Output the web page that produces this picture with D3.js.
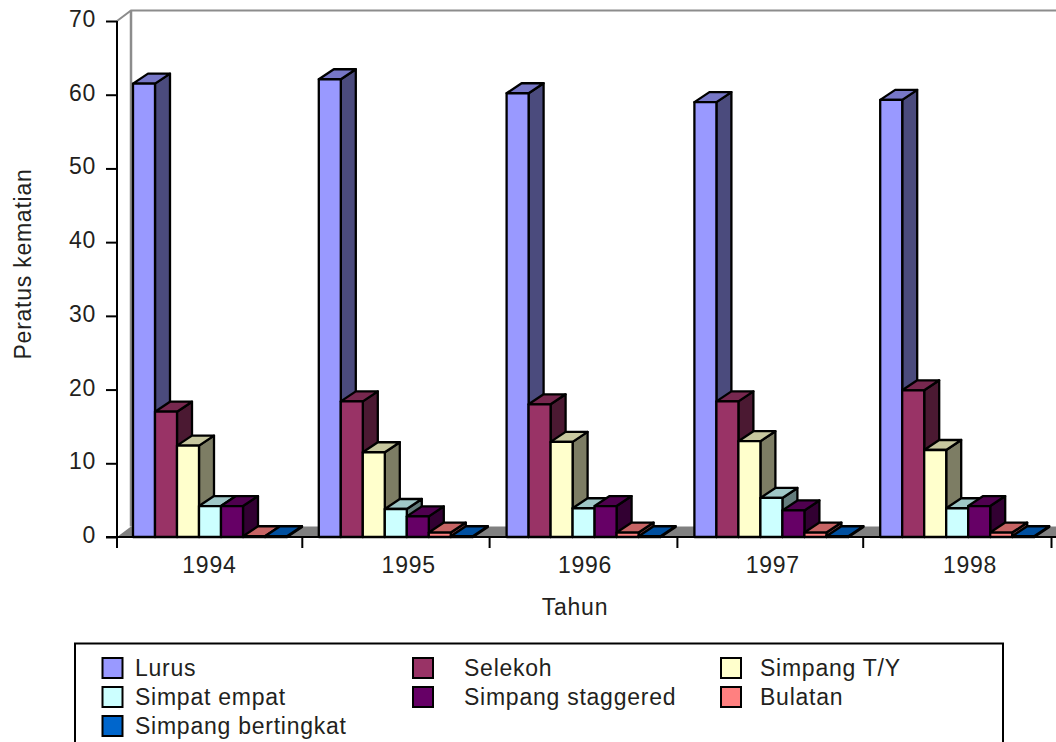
<!DOCTYPE html>
<html>
<head>
<meta charset="utf-8">
<script src="https://cdn.jsdelivr.net/npm/d3@7/dist/d3.min.js"></script>
<style>
html,body{margin:0;padding:0;background:#fff;overflow:hidden}
text{font-family:"Liberation Sans",Arial,sans-serif;fill:#231f20;letter-spacing:.75px}
</style>
</head>
<body>
<svg id="chart" width="1056" height="742"></svg>
<script>
const years = ["1994","1995","1996","1997","1998"];
const seriesNames = ["Lurus","Selekoh","Simpang T/Y","Simpat empat","Simpang staggered","Bulatan","Simpang bertingkat"];
const seriesColors = ["#9999ff","#993366","#ffffcc","#ccffff","#660066","#ff8080","#0066cc"];
const lurus = [61.5,62.1,60.2,59.0,59.3];
const selekoh = [17.0,18.4,18.0,18.4,19.9];
const simpangTY = [12.4,11.5,12.9,13.0,11.8];
const simpatEmpat = [4.2,3.8,3.9,5.3,3.9];
const simpangStaggered = [4.2,2.8,4.2,3.6,4.2];
const bulatan = [0.1,0.6,0.6,0.6,0.6];
const simpangBertingkat = [0.1,0.1,0.1,0.1,0.1];
const seriesValues = [lurus,selekoh,simpangTY,simpatEmpat,simpangStaggered,bulatan,simpangBertingkat];
const yTicks = [0,10,20,30,40,50,60,70];

const svg = d3.select("#chart");
const wallDX = 14, wallDY = 10.5, barDX = 15, barDY = 10;
const y = d3.scaleLinear().domain([0,70]).range([537,21]);
const x0 = d3.scaleBand().domain(years).range([117,1051]);
const x1 = d3.scaleBand().domain(seriesNames).range([16,170]);
const wallGrey = "#808080";

// hand-tuned pixel offsets per year for bars, ticks and labels
const barNudge = [0,-1,0,1,0];
const tickNudge = [0,-1.5,-1,0,-1,0.5];
const labelNudge = [-1,11.5,1,2,12.5];

// back wall frame and floor of the 3D plot area
const path = pts => "M" + pts.map(p => p.join(",")).join("L") + "Z";
svg.append("path")
  .attr("d", path([[117,537],[117+wallDX,537-wallDY],[1056,537-wallDY],[1056,537]]))
  .attr("fill", wallGrey);
svg.append("path")
  .attr("d", `M117,${y(70)}L${117+wallDX},${y(70)-wallDY}H1056`)
  .attr("fill","none").attr("stroke","#8c8c8c").attr("stroke-width",2);
svg.append("line")
  .attr("x1",117+wallDX).attr("x2",117+wallDX)
  .attr("y1",y(70)-wallDY).attr("y2",537-wallDY)
  .attr("stroke","#8c8c8c").attr("stroke-width",2.5);

// one cuboid per year and series, painted left to right so later bars overlap earlier sides
const shade = (c,k) => d3.rgb(c).darker(k).formatHex();
years.forEach((yr,i) => {
  seriesNames.forEach((name,s) => {
    const v = seriesValues[s][i];
    const l = x0(yr) + x1(name) + barNudge[i];
    const r = l + x1.bandwidth();
    const t = y(v), b = y(0);
    const g = svg.append("g")
      .attr("stroke","#000").attr("stroke-width",2.3).attr("stroke-linejoin","round");
    g.append("path").attr("fill",shade(seriesColors[s],2))
      .attr("d",path([[r,b],[r+barDX,b-barDY],[r+barDX,t-barDY],[r,t]]));
    g.append("path").attr("fill",shade(seriesColors[s],0.7))
      .attr("d",path([[l,t],[l+barDX,t-barDY],[r+barDX,t-barDY],[r,t]]));
    g.append("rect").attr("fill",seriesColors[s])
      .attr("x",l).attr("y",t).attr("width",r-l).attr("height",b-t);
  });
});

// value axis
const yAxis = svg.append("g").attr("transform","translate(117,0)")
  .call(d3.axisLeft(y).tickValues(yTicks).tickSize(11).tickPadding(10));
yAxis.selectAll("line,path").attr("stroke","#000").attr("stroke-width",2);
yAxis.select(".domain").attr("d",`M0,${y(70)}V${y(0)}`);
yAxis.selectAll("text").attr("font-size",23).attr("dy","0.24em").style("fill","#231f20");

// category axis: ticks sit on band edges, labels below
const tickXs = years.map(d => x0(d)).concat([x0.range()[1]]);
svg.append("line").attr("x1",106).attr("x2",1056).attr("y1",537).attr("y2",537)
  .attr("stroke","#000").attr("stroke-width",2);
svg.selectAll(".xt").data(tickXs).join("line").attr("class","xt")
  .attr("x1",(d,i)=>d+tickNudge[i]).attr("x2",(d,i)=>d+tickNudge[i]).attr("y1",537).attr("y2",548)
  .attr("stroke","#000").attr("stroke-width",2);
svg.selectAll(".xl").data(years).join("text").attr("class","xl")
  .attr("x",(d,i)=>x0(d)+x0.bandwidth()/2+labelNudge[i]).attr("y",573)
  .attr("text-anchor","middle").attr("font-size",23).text(d=>d);

svg.append("text").attr("x",575).attr("y",615).attr("text-anchor","middle")
  .attr("font-size",23).text("Tahun");
svg.append("text").attr("transform","translate(31,264) rotate(-90)")
  .attr("text-anchor","middle").attr("font-size",23).text("Peratus kematian");

// legend box, three columns
svg.append("rect").attr("x",75).attr("y",643.5).attr("width",928).attr("height",110)
  .attr("fill","#fff").attr("stroke","#000").attr("stroke-width",2);
const swatchCols = [102.5,413,721], textCols = [135,464,760], rowTops = [658,687,716];
seriesNames.forEach((name,s) => {
  const c = s%3, r = Math.floor(s/3);
  svg.append("rect").attr("x",swatchCols[c]).attr("y",rowTops[r]).attr("width",20).attr("height",20)
    .attr("fill",seriesColors[s]).attr("stroke","#000").attr("stroke-width",2);
  svg.append("text").attr("x",textCols[c]).attr("y",rowTops[r]+18)
    .attr("font-size",23).text(name);
});
</script>
</body>
</html>
